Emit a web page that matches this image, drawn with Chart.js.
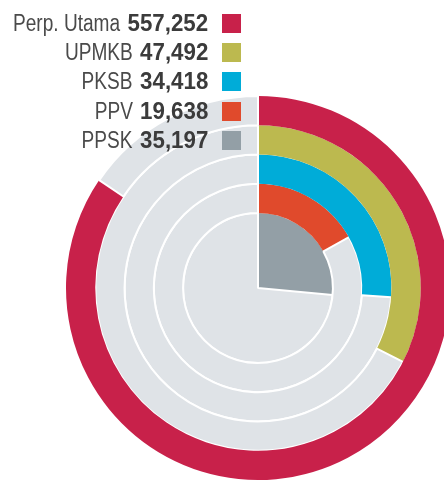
<!DOCTYPE html>
<html>
<head>
<meta charset="utf-8">
<script src="https://cdn.jsdelivr.net/npm/chart.js@4"></script>
<style>
  html, body { margin: 0; padding: 0; background: #fff; }
  #wrap { position: relative; width: 444px; height: 482px; overflow: hidden; }
  #legend {
    position: absolute; left: 0; top: 9px; width: 241px;
    font-family: "Liberation Sans", Arial, sans-serif;
    font-size: 23px; color: #4a4a4a; white-space: nowrap;
  }
  .row { display: flex; justify-content: flex-end; align-items: center; height: 29.2px; }
  .row .name { display: inline-block; transform-origin: right center; }
  .row b { display: inline-block; color: #3b3b3b; margin-left: 7px; transform-origin: right center; }
  .row .sw { width: 19px; height: 19px; margin-left: 14px; flex: none; }
</style>
</head>
<body>
<div id="wrap">
  <canvas id="myChart" width="444" height="482"></canvas>
  <div id="legend"></div>
</div>
<script>
const labels = ["Perp. Utama", "UPMKB", "PKSB", "PPV", "PPSK"];
const values = [557252, 47492, 34418, 19638, 35197];
// share of the full circle each ring is filled (%)
const filled = [84.5, 32.5, 26.1, 16.9, 26.5];
const colors = ["#c8214a", "#bcb94f", "#00acd8", "#e04a2c", "#939fa6"];
const track = "#dfe3e7";

// squeeze text to look like a condensed face
function condense(el, k) {
  const w = el.getBoundingClientRect().width;
  el.style.transform = "scaleX(" + k + ")";
  el.style.marginLeft = (parseFloat(getComputedStyle(el).marginLeft) - (1 - k) * w) + "px";
}

const legend = document.getElementById("legend");
labels.forEach((name, i) => {
  const row = document.createElement("div");
  row.className = "row";
  row.innerHTML = '<span class="name">' + name + "</span><b>" + values[i].toLocaleString("en-US") + "</b>" +
    '<span class="sw" style="background:' + colors[i] + '"></span>';
  legend.appendChild(row);
  condense(row.querySelector(".name"), 0.83);
  condense(row.querySelector("b"), 0.97);
});

const datasets = labels.map((name, i) => ({
  label: name,
  data: [filled[i], 100 - filled[i]],
  backgroundColor: [colors[i], track],
  borderColor: ["rgba(0,0,0,0)", "#ffffff"],
  borderWidth: [0, 2],
  weight: i === labels.length - 1 ? 2.56 : 1,
}));

const ctx = document.getElementById("myChart").getContext("2d");
new Chart(ctx, {
  type: "doughnut",
  data: { labels: ["filled", "rest"], datasets: datasets },
  options: {
    responsive: false,
    animation: false,
    cutout: 0,
    radius: 192,
    clip: false,
    layout: { padding: { left: 72, right: 0, top: 94, bottom: 0 } },
    plugins: { legend: { display: false }, tooltip: { enabled: false } },
  },
});
</script>
</body>
</html>
